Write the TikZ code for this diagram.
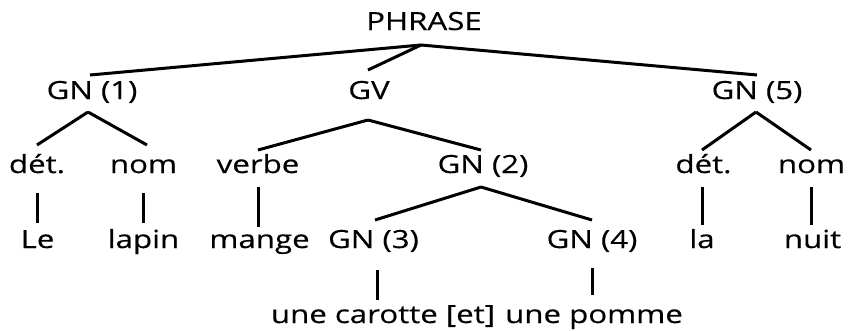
\documentclass[tikz,border=0pt]{standalone}
\usepackage{fontspec}
\setmainfont[FakeStretch=1.25,FakeBold=0.4]{Open Sans}
\begin{document}
\begin{tikzpicture}[x=1pt,y=-1pt,
  lbl/.style={inner sep=0pt,anchor=base,font=\fontsize{25}{29}\selectfont},
  edge/.style={line width=3pt}]
\useasboundingbox (0,0) rectangle (848,330);
% nodes
\node[lbl] (phrase) at (424,30) {PHRASE};
\node[lbl] (gn1) at (92,99) {GN (1)};
\node[lbl] (gv) at (369,99) {GV};
\node[lbl] (gn5) at (757,99) {GN (5)};
\node[lbl] (det1) at (37,173) {dét.};
\node[lbl] (nom1) at (143.5,173) {nom};
\node[lbl] (verbe) at (258,173) {verbe};
\node[lbl] (gn2) at (483,173) {GN (2)};
\node[lbl] (det5) at (703.5,173) {dét.};
\node[lbl] (nom5) at (811.5,173) {nom};
\node[lbl] (le) at (37.5,248) {Le};
\node[lbl] (lapin) at (143.5,248) {lapin};
\node[lbl] (mange) at (259.5,248) {mange};
\node[lbl] (gn3) at (373.5,248) {GN (3)};
\node[lbl] (gn4) at (592,248) {GN (4)};
\node[lbl] (la) at (702,248) {la};
\node[lbl] (nuit) at (812.5,248) {nuit};
\node[lbl] (carotte) at (383,323) {une carotte [et]};
\node[lbl] (pomme) at (594,323) {une pomme};
% connectors
\draw[edge] ([shift={(-3,15)}]phrase.base) -- ([shift={(-2,-24)}]gn1.base);
\draw[edge] ([shift={(-3,15)}]phrase.base) -- ([shift={(-1,-29)}]gv.base);
\draw[edge] ([shift={(-3,15)}]phrase.base) -- ([shift={(0,-24)}]gn5.base);
\draw[edge] ([shift={(-4,13)}]gn1.base) -- ([shift={(0,-28)}]det1.base);
\draw[edge] ([shift={(-4,13)}]gn1.base) -- ([shift={(3.5,-28)}]nom1.base);
\draw[edge] ([shift={(-1,21)}]gv.base) -- ([shift={(0,-23)}]verbe.base);
\draw[edge] ([shift={(-1,21)}]gv.base) -- ([shift={(-2,-23)}]gn2.base);
\draw[edge] ([shift={(-1,13)}]gn5.base) -- ([shift={(-1.5,-23)}]det5.base);
\draw[edge] ([shift={(-1,13)}]gn5.base) -- ([shift={(-0.5,-23)}]nom5.base);
\draw[edge] ([shift={(0,20)}]det1.base) -- ([shift={(-0.5,-25)}]le.base);
\draw[edge] ([shift={(-0.5,20)}]nom1.base) -- ([shift={(-0.5,-25)}]lapin.base);
\draw[edge] ([shift={(0,14)}]verbe.base) -- ([shift={(-1.5,-21)}]mange.base);
\draw[edge] ([shift={(-2,14)}]gn2.base) -- ([shift={(1.5,-28)}]gn3.base);
\draw[edge] ([shift={(-2,14)}]gn2.base) -- ([shift={(0,-28)}]gn4.base);
\draw[edge] ([shift={(-1.5,14)}]det5.base) -- ([shift={(0,-23)}]la.base);
\draw[edge] ([shift={(-0.5,14)}]nom5.base) -- ([shift={(-1.5,-23)}]nuit.base);
\draw[edge] ([shift={(3.5,22)}]gn3.base) -- ([shift={(-6,-23)}]carotte.base);
\draw[edge] ([shift={(0,20)}]gn4.base) -- ([shift={(-2,-28)}]pomme.base);
\end{tikzpicture}
\end{document}
